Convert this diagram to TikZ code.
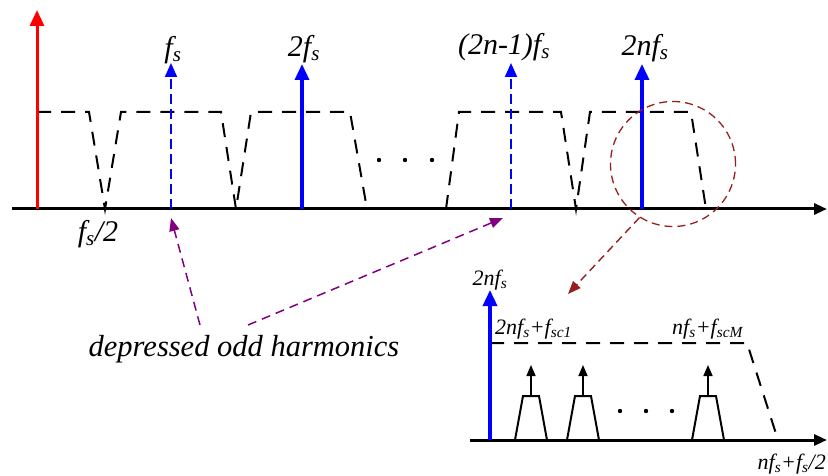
\documentclass[tikz,border=0pt]{standalone}
\usepackage{fontspec}
\setmainfont{Liberation Serif}
\usetikzlibrary{arrows.meta}
\definecolor{mypurple}{RGB}{128,0,128}
\definecolor{mydarkred}{RGB}{150,30,30}
\newcommand\fsb[1]{\textsubscript{\textit{#1}}}
\begin{document}
\begin{tikzpicture}[x=1pt,y=-1pt,
  axisline/.style={line width=3pt,-{Triangle[length=13pt,width=11pt]}},
  redarr/.style={red,line width=3pt,-{Triangle[length=16pt,width=14pt]}},
  bluearr/.style={blue,line width=3.5pt,-{Triangle[length=16pt,width=14pt]}},
  bluedash/.style={blue,line width=2pt,dash pattern=on 10pt off 5pt,-{Triangle[length=14pt,width=12pt]}},
  plateau/.style={line width=2pt,dash pattern=on 14pt off 10pt},
  purplearr/.style={mypurple,line width=1.5pt,dash pattern=on 9pt off 6pt,-{Triangle[length=13pt,width=10pt]}},
  redlink/.style={mydarkred,line width=1.4pt,dash pattern=on 8pt off 5pt,-{Triangle[length=13pt,width=10pt]}},
  circ/.style={draw=mydarkred,line width=1.3pt,dash pattern=on 8pt off 5pt,circle,minimum size=125pt,inner sep=0pt},
  lbl/.style={font=\fontsize{30}{32}\selectfont\itshape,inner sep=0pt},
  slbl/.style={font=\fontsize{22}{24}\selectfont\itshape,inner sep=0pt},
  bigtxt/.style={font=\fontsize{30.5}{32}\selectfont\itshape,inner sep=0pt},
  trap/.style={line width=2pt},
  smallarr/.style={line width=1.6pt,-{Triangle[length=11pt,width=9pt]}}
]
\useasboundingbox (0,0) rectangle (828,476);
% ---------- main spectrum ----------
\coordinate (axL) at (12,209);
\coordinate (axR) at (827,209);
\coordinate (o) at (37,209);
\coordinate (redtop) at (37,10);
\coordinate (h1) at (171,209);   \coordinate (h1t) at (171,63);
\coordinate (h2) at (302,209);   \coordinate (h2t) at (302,64);
\coordinate (h3) at (511,209);   \coordinate (h3t) at (511,63);
\coordinate (h4) at (642,209);   \coordinate (h4t) at (642,64);

% dashed envelope
\draw[plateau] (37,112) -- (89,112) -- (105,209) -- (121,112) -- (221,112)
  -- (236,209) -- (251,112) -- (350,112) -- (367,209);
\draw[plateau] (446,209) -- (459,112) -- (561,112) -- (576,209) -- (590,112)
  -- (691,112) -- (706,209);

\draw[axisline] (axL) -- (axR);
\draw[redarr] (o) -- (redtop);
\draw[bluedash] (h1) -- (h1t);
\draw[bluearr] (h2) -- (h2t);
\draw[bluedash] (h3) -- (h3t);
\draw[bluearr] (h4) -- (h4t);

\node[lbl] (l1) at (173,50) {f\fsb{s}};
\node[lbl] (l2) at (304,49) {2f\fsb{s}};
\node[lbl] (l3) at (504,47) {(2n-1)f\fsb{s}};
\node[lbl] (l4) at (645,48) {2nf\fsb{s}};
\node[lbl] (lhalf) at (98,234) {f\fsb{s}/2};

% dots
\foreach \x/\n in {379/d1,405/d2,432/d3}
  \fill (\x,160) circle (2.2pt) coordinate (\n);

% circle and link
\node[circ] (zoom) at (673,164) {};
\coordinate (insettarget) at (568,294);
\draw[redlink] (zoom.238) -- (insettarget);

% depressed odd harmonics
\node[bigtxt] (dep) at (244,349) {depressed odd harmonics};
\coordinate (p1s) at (200,325);
\coordinate (p2s) at (248,325);
\coordinate (p1e) at (171,218);
\coordinate (p2e) at (503,218);
\draw[purplearr] (p1s) -- (p1e);
\draw[purplearr] (p2s) -- (p2e);

% ---------- inset ----------
\coordinate (iaxL) at (470,440);
\coordinate (iaxR) at (827,440);
\coordinate (io) at (490,440);
\coordinate (iot) at (490,290);
\draw[plateau] (490,343) -- (747,343) -- (778,440);
\draw[axisline] (iaxL) -- (iaxR);
\draw[bluearr] (io) -- (iot);
\node[slbl] (il) at (490,280) {2nf\fsb{s}};
\node[slbl,anchor=west] (ia) at (495,329) {2nf\fsb{s}+f\fsb{sc1}};
\node[slbl,anchor=west] (ib) at (672,329) {nf\fsb{s}+f\fsb{scM}};
\node[slbl,anchor=east] (ic) at (826,464) {nf\fsb{s}+f\fsb{s}/2};

\foreach \c/\n in {531/t1,583/t2,708/t3}{
  \draw[trap] (\c-16,440) -- (\c-8,396) -- (\c+8,396) -- (\c+16,440);
  \coordinate (\n b) at (\c,396);
  \coordinate (\n t) at (\c,365);
  \draw[smallarr] (\n b) -- (\n t);
}
\foreach \x/\n in {620/e1,646/e2,672/e3}
  \fill (\x,411) circle (2.2pt) coordinate (\n);
\end{tikzpicture}
\end{document}
